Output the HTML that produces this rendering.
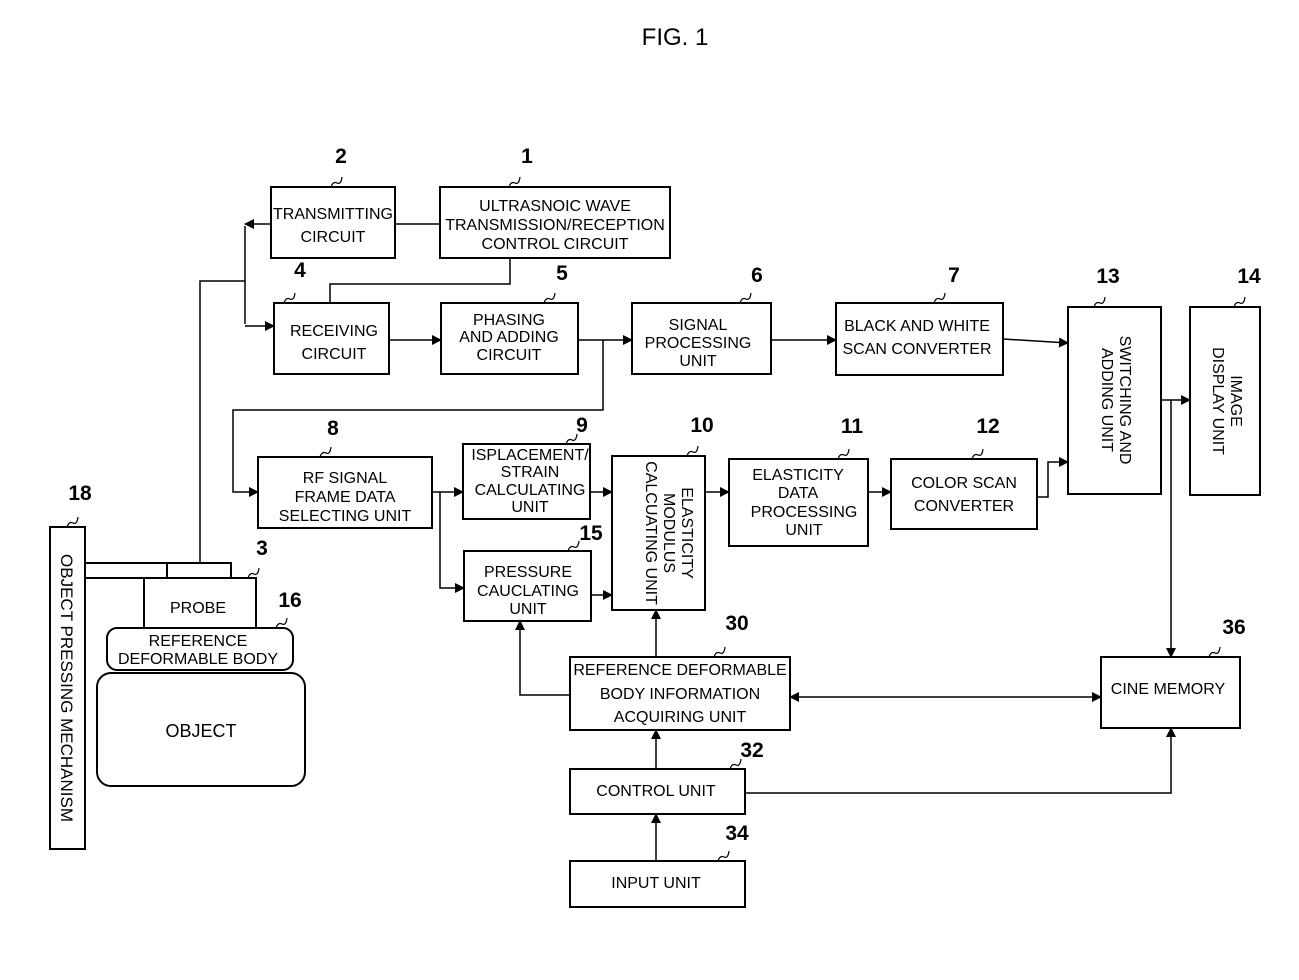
<!DOCTYPE html>
<html><head><style>body{margin:0;background:#fff}svg{display:block}text{font-family:"Liberation Sans",sans-serif;fill:#000}</style></head><body>
<svg width="1299" height="980" viewBox="0 0 1299 980" xmlns="http://www.w3.org/2000/svg">
<defs><marker id="a" markerWidth="10" markerHeight="10" refX="9" refY="5" orient="auto" markerUnits="userSpaceOnUse"><path d="M0,0 L10,5 L0,10z" fill="#000"/></marker>
<marker id="s" markerWidth="10" markerHeight="10" refX="1" refY="5" orient="auto" markerUnits="userSpaceOnUse"><path d="M10,0 L0,5 L10,10z" fill="#000"/></marker></defs>
<text x="675" y="45" font-size="24" text-anchor="middle">FIG. 1</text>
<g fill="none" stroke="#000" stroke-width="2">
<rect x="271" y="187" width="124" height="71"/>
<rect x="440" y="187" width="230" height="71"/>
<rect x="274" y="303" width="115" height="71"/>
<rect x="441" y="303" width="137" height="71"/>
<rect x="632" y="303" width="139" height="71"/>
<rect x="836" y="303" width="167" height="72"/>
<rect x="1068" y="307" width="93" height="187"/>
<rect x="1190" y="307" width="70" height="188"/>
<rect x="258" y="457" width="174" height="71"/>
<rect x="463" y="444" width="127" height="75"/>
<rect x="464" y="551" width="127" height="70"/>
<rect x="612" y="456" width="93" height="154"/>
<rect x="729" y="459" width="139" height="87"/>
<rect x="891" y="459" width="146" height="70"/>
<rect x="570" y="657" width="220" height="73"/>
<rect x="1101" y="657" width="139" height="71"/>
<rect x="570" y="769" width="175" height="45"/>
<rect x="570" y="861" width="175" height="46"/>
<rect x="50" y="527" width="35" height="322"/>
<rect x="144" y="578" width="112" height="50"/>
<rect x="167" y="563" width="64" height="15"/>
<path d="M85,563 H167 M85,578 H144"/>
<rect x="107" y="628" width="186" height="42" rx="10"/>
<rect x="97" y="673" width="208" height="113" rx="14"/>
</g>
<g fill="none" stroke="#000" stroke-width="1.5">
<path d="M200,563 V281 H245"/>
<path d="M245,324 V226" />
<path d="M271,224 H245" marker-end="url(#a)"/>
<path d="M245,326 H274" marker-end="url(#a)"/>
<path d="M395,224 H440"/>
<path d="M510,258 V284 H330 V303"/>
<path d="M389,340 H441" marker-end="url(#a)"/>
<path d="M578,340 H632" marker-end="url(#a)"/>
<path d="M603,340 V410 H233 V492 H258" marker-end="url(#a)"/>
<path d="M771,340 H836" marker-end="url(#a)"/>
<path d="M1003,339 L1068,343" marker-end="url(#a)"/>
<path d="M432,492 H463" marker-end="url(#a)"/>
<path d="M440,492 V588 H464" marker-end="url(#a)"/>
<path d="M590,492 H612" marker-end="url(#a)"/>
<path d="M591,595 H612" marker-end="url(#a)"/>
<path d="M705,492 H729" marker-end="url(#a)"/>
<path d="M868,492 H891" marker-end="url(#a)"/>
<path d="M1037,497 H1048 V462 H1068" marker-end="url(#a)"/>
<path d="M1161,400 H1190" marker-end="url(#a)"/>
<path d="M1171,400 V657" marker-end="url(#a)"/>
<path d="M656,657 V610" marker-end="url(#a)"/>
<path d="M570,695 H520 V621" marker-end="url(#a)"/>
<path d="M790,697 H1101" marker-start="url(#s)" marker-end="url(#a)"/>
<path d="M656,769 V730" marker-end="url(#a)"/>
<path d="M745,793 H1171 V728" marker-end="url(#a)"/>
<path d="M656,861 V814" marker-end="url(#a)"/>
</g>
<g font-size="16" text-anchor="middle">
<text x="333" y="219">TRANSMITTING</text><text x="333" y="242">CIRCUIT</text>
<text x="555" y="211">ULTRASNOIC WAVE</text><text x="555" y="230">TRANSMISSION/RECEPTION</text><text x="555" y="249">CONTROL CIRCUIT</text>
<text x="334" y="336">RECEIVING</text><text x="334" y="359">CIRCUIT</text>
<text x="509" y="325">PHASING</text><text x="509" y="342">AND ADDING</text><text x="509" y="360">CIRCUIT</text>
<text x="698" y="330">SIGNAL</text><text x="698" y="348">PROCESSING</text><text x="698" y="366">UNIT</text>
<text x="917" y="331">BLACK AND WHITE</text><text x="917" y="354">SCAN CONVERTER</text>
<text x="345" y="483">RF SIGNAL</text><text x="345" y="502">FRAME DATA</text><text x="345" y="521">SELECTING UNIT</text>
<text x="530" y="460">ISPLACEMENT/</text><text x="530" y="477">STRAIN</text><text x="530" y="495">CALCULATING</text><text x="530" y="512">UNIT</text>
<text x="528" y="577">PRESSURE</text><text x="528" y="596">CAUCLATING</text><text x="528" y="614">UNIT</text>
<text x="798" y="480">ELASTICITY</text><text x="798" y="498">DATA</text><text x="804" y="517">PROCESSING</text><text x="804" y="535">UNIT</text>
<text x="964" y="488">COLOR SCAN</text><text x="964" y="511">CONVERTER</text>
<text x="680" y="675">REFERENCE DEFORMABLE</text><text x="680" y="699">BODY INFORMATION</text><text x="680" y="722">ACQUIRING UNIT</text>
<text x="1168" y="694">CINE MEMORY</text>
<text x="656" y="796">CONTROL UNIT</text>
<text x="656" y="888">INPUT UNIT</text>
<text x="198" y="613">PROBE</text>
<text x="198" y="646">REFERENCE</text><text x="198" y="664">DEFORMABLE BODY</text>
<text x="201" y="737" font-size="18">OBJECT</text>
<g transform="translate(658,533) rotate(90)"><text x="0" y="-24">ELASTICITY</text><text x="0" y="-6">MODULUS</text><text x="0" y="12">CALCUATING UNIT</text></g>
<g transform="translate(1114,400) rotate(90)"><text x="0" y="-6">SWITCHING AND</text><text x="0" y="12">ADDING UNIT</text></g>
<g transform="translate(1225,401) rotate(90)"><text x="0" y="-6">IMAGE</text><text x="0" y="12">DISPLAY UNIT</text></g>
<g transform="translate(67,688) rotate(90)"><text x="0" y="6" font-size="17">OBJECT PRESSING MECHANISM</text></g>
</g>
<g font-size="21" font-weight="bold" text-anchor="middle">
<text x="341" y="163">2</text><text x="527" y="163">1</text><text x="300" y="277">4</text><text x="562" y="280">5</text><text x="757" y="282">6</text><text x="954" y="282">7</text><text x="1108" y="283">13</text><text x="1249" y="283">14</text>
<text x="333" y="435">8</text><text x="582" y="432">9</text><text x="702" y="432">10</text><text x="852" y="433">11</text><text x="988" y="433">12</text><text x="591" y="540">15</text><text x="262" y="555">3</text><text x="290" y="607">16</text><text x="80" y="500">18</text>
<text x="737" y="630">30</text><text x="1234" y="634">36</text><text x="752" y="757">32</text><text x="737" y="840">34</text>
</g>
<g fill="none" stroke="#000" stroke-width="1.2">
<path d="M331,187 q2,-6 6,-4 q4,2 5,-6"/><path d="M509,187 q2,-6 6,-4 q4,2 5,-6"/><path d="M284,303 q2,-6 6,-4 q4,2 5,-6"/><path d="M544,303 q2,-6 6,-4 q4,2 5,-6"/><path d="M740,303 q2,-6 6,-4 q4,2 5,-6"/><path d="M934,303 q2,-6 6,-4 q4,2 5,-6"/><path d="M1094,307 q2,-6 6,-4 q4,2 5,-6"/><path d="M1234,307 q2,-6 6,-4 q4,2 5,-6"/>
<path d="M320,457 q2,-6 6,-4 q4,2 5,-6"/><path d="M566,444 q2,-6 6,-4 q4,2 5,-6"/><path d="M687,456 q2,-6 6,-4 q4,2 5,-6"/><path d="M838,459 q2,-6 6,-4 q4,2 5,-6"/><path d="M972,459 q2,-6 6,-4 q4,2 5,-6"/><path d="M568,551 q2,-6 6,-4 q4,2 5,-6"/><path d="M248,578 q2,-6 6,-4 q4,2 5,-6"/><path d="M276,628 q2,-6 6,-4 q4,2 5,-6"/><path d="M67,527 q2,-6 6,-4 q4,2 5,-6"/>
<path d="M714,657 q2,-6 6,-4 q4,2 5,-6"/><path d="M1209,657 q2,-6 6,-4 q4,2 5,-6"/><path d="M730,769 q2,-6 6,-4 q4,2 5,-6"/><path d="M718,861 q2,-6 6,-4 q4,2 5,-6"/>
</g>
</svg>
</body></html>
